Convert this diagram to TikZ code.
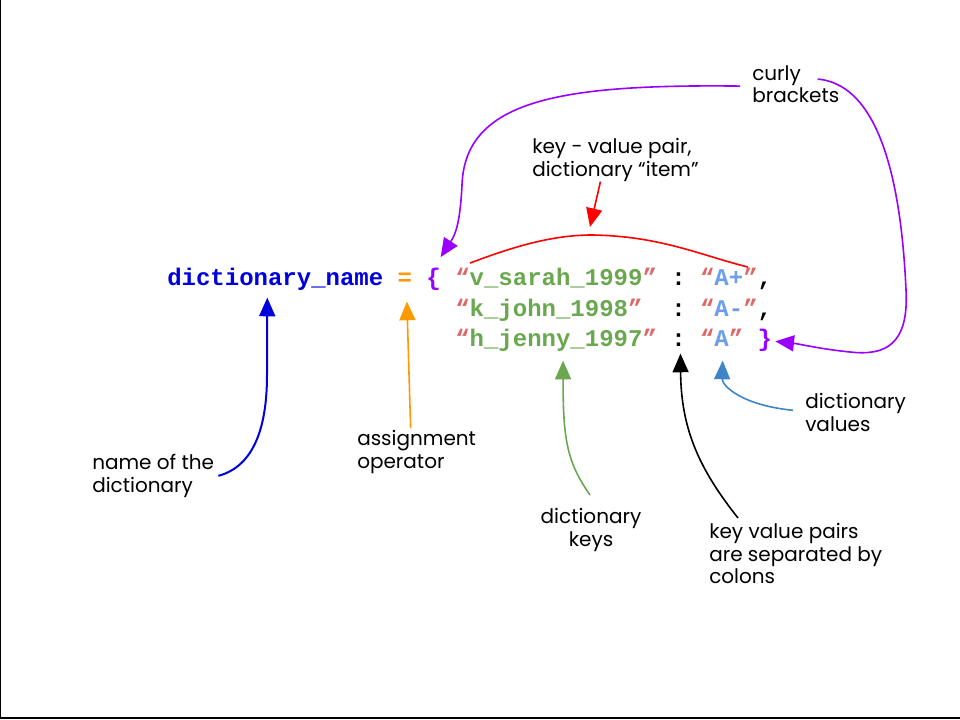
\documentclass[tikz,border=0pt]{standalone}
\usepackage{fontspec}
\setmainfont{Poppins}
\newfontfamily\codett{Liberation Mono}
\usetikzlibrary{arrows.meta}
\definecolor{nameblue}{HTML}{0000DD}
\definecolor{asgorange}{HTML}{FF9900}
\definecolor{brpurple}{HTML}{9900FF}
\definecolor{keygreen}{HTML}{6AA84F}
\definecolor{qred}{HTML}{E06666}
\definecolor{valblue}{HTML}{6D9EEB}
\definecolor{valarrow}{HTML}{3D85C6}
\newcommand\dquote[2]{\textcolor{qred}{“}\textcolor{#1}{#2}\textcolor{qred}{”}}
\begin{document}
\begin{tikzpicture}[x=0.75pt,y=-0.75pt,
    code/.style={inner sep=0pt,anchor=base west,text height=11pt,text depth=4pt,
        font=\codett\bfseries\fontsize{18}{20}\selectfont},
    lbl/.style={inner sep=0pt,align=left,anchor=north west,font=\fontsize{15}{17}\selectfont},
    arr/.style={line width=1.2pt,-{Triangle[length=14pt,width=12pt]}}]
            \useasboundingbox (0,0) rectangle (960,720);
            \draw[line width=1.2pt] (0.5,0) -- (0.5,718) -- (960,718);
            % code lines
            \node[code,text=nameblue] (dname) at (167,286) {dictionary\_name};
            \node[code,text=asgorange] (assign) at (397.4,286) {=};
            \node[code,text=brpurple] (lbrace) at (426.2,286) {\{};
            \foreach \r/\k/\v in {1/v\_sarah\_1999/A+, 2/k\_john\_1998/A-, 3/h\_jenny\_1997/A}{
                    \node[code] (key\r) at (455,{256+30*\r}) {\dquote{keygreen}{\k}};
                    \node[code] (colon\r) at (671,{256+30*\r}) {:};
                    \node[code] (val\r) at (699.8,{256+30*\r}) {\dquote{valblue}{\v}};
                }
            \foreach \r in {1,2}
            \node[code] (comma\r) at (757.4,{256+30*\r}) {,};
            \node[code,text=brpurple] (rbrace) at (757.4,346) {\}};
            % labels
            \node[lbl] (itemlbl) at (532,138) {key - value pair,\\dictionary “item”};
            \node[lbl] (curlylbl) at (752,65) {curly\\brackets};
            \node[lbl] (namelbl) at (92,454) {name of the\\dictionary};
            \node[lbl] (asglbl) at (357,430) {assignment\\operator};
            \node[lbl,align=center,anchor=north] (keylbl) at (591,508) {dictionary\\keys};
            \node[lbl] (seplbl) at (709,523) {key value pairs\\are separated by\\colons};
            \node[lbl] (vallbl) at (805,393) {dictionary\\values};
            % arrows
            \coordinate (arctop) at (592,235);
            \draw[red,line width=1.2pt] ([shift={(15,-8)}]key1.north west) .. controls (510,248) and (550,235) .. (arctop)
                .. controls (660,236) and (700,255) .. ([shift={(-10,-4)}]val1.north east);
            \draw[arr,red] ([shift={(-15,0)}]itemlbl.south) -- ([shift={(-2,-8)}]arctop);
            \draw[arr,brpurple] ([shift={(-12,2)}]curlylbl.west) .. controls (560,84) and (465,100) .. (462,185)
                .. controls (460,225) and (455,235) .. ([shift={(7,-14)}]lbrace.north);
            \draw[arr,brpurple] ([shift={(-22,-5)}]curlylbl.east) .. controls (885,85) and (902,200) .. (906,290)
                .. controls (909,345) and (885,356) .. (850,352)
                .. controls (820,349) and (800,344) .. ([shift={(3,0)}]rbrace.east);
            \draw[arr,nameblue,line width=1.5pt] ([shift={(4,0)}]namelbl.east) .. controls (255,466) and (267,425) .. (267,375)
                -- ([shift={(-8,6)}]dname.south);
            \draw[arr,asgorange] ([shift={(-6,-2)}]asglbl.north) -- ([shift={(2,10)}]assign.south);
            \draw[arr,keygreen] ([shift={(-1,-13)}]keylbl.north) .. controls (567,462) and (563,440) .. ([shift={(7,9)}]key3.south);
            \draw[arr,black] ([shift={(29,-5)}]seplbl.north west) .. controls (700,470) and (681,430) .. ([shift={(2,2)}]colon3.south);
            \draw[arr,valarrow] ([shift={(-12,-2)}]vallbl.west) .. controls (740,405) and (722,385) .. ([shift={(1,9)}]val3.south);
        \end{tikzpicture}
\end{document}
